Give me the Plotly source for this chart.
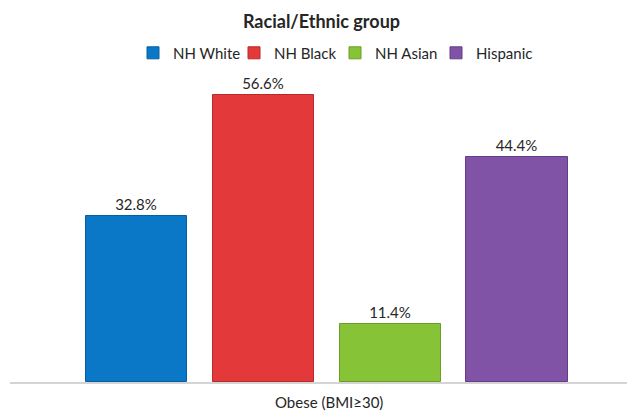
import plotly.graph_objects as go

groups = ["NH White", "NH Black", "NH Asian", "Hispanic"]
values = [32.8, 56.6, 11.4, 44.4]
labels = ["32.8%", "56.6%", "11.4%", "44.4%"]
category = "Obese (BMI≥30)"
title = "Racial/Ethnic group"

fills = ["#0A78C6", "#E3393A", "#86C336", "#8153A6"]
edges = ["#05609E", "#B82A2A", "#6A9E28", "#643C88"]

FONT = "Lato, 'Open Sans', sans-serif"
INK = "#262626"

fig = go.Figure()
for i, (g, v, lab) in enumerate(zip(groups, values, labels)):
    fig.add_trace(go.Bar(
        x=[i], y=[v], name=g, width=0.8,
        text=[lab], textposition="outside", cliponaxis=False,
        textfont=dict(size=15, color=INK, family=FONT),
        marker=dict(color=fills[i], line=dict(color=edges[i], width=1)),
    ))

# The page body has an 8px margin, so the figure is sized to the visible area.
fig.update_layout(
    width=627, height=404,
    margin=dict(l=2, r=0, t=70, b=30),
    paper_bgcolor="white", plot_bgcolor="white",
    font=dict(family=FONT, color=INK),
    title=dict(text="<b>" + title + "</b>", x=0.5, xanchor="center",
               y=0.965, yanchor="middle", font=dict(size=18, color=INK)),
    legend=dict(orientation="h", x=0.52, xanchor="center", y=1.082, yanchor="middle",
                font=dict(size=15, color=INK), itemwidth=30,
                entrywidth=56, entrywidthmode="pixels",
                traceorder="normal"),
    showlegend=True,
    bargap=0,
)
fig.update_xaxes(range=[-1.0, 3.93], showticklabels=False, showgrid=False,
                 zeroline=False, showline=True, linecolor="#D4D4D4", linewidth=1.5,
                 ticks="")
fig.update_yaxes(range=[0, 60], visible=False)
fig.add_annotation(text=category, xref="paper", yref="paper", x=0.51, y=0,
                   yshift=-20, showarrow=False, xanchor="center", yanchor="middle",
                   font=dict(size=15, color=INK, family=FONT))

fig.write_html("out.html")
